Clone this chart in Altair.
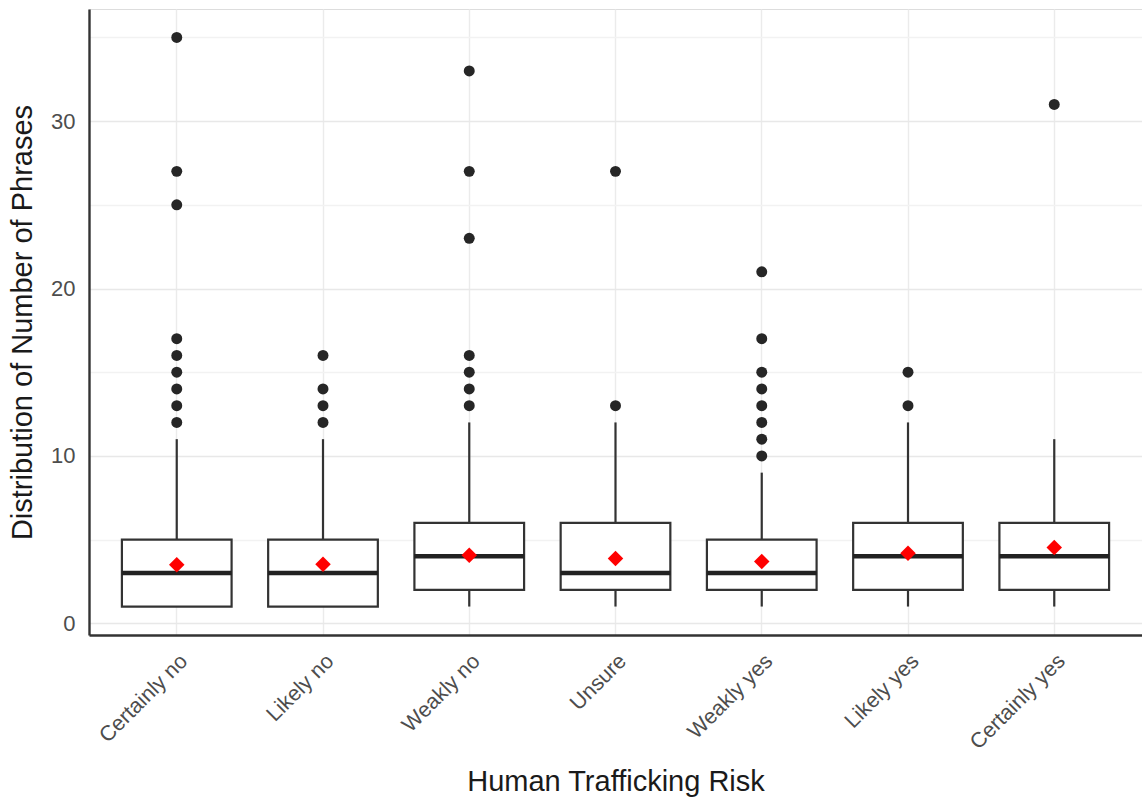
import altair as alt
import pandas as pd

categories = ["Certainly no", "Likely no", "Weakly no", "Unsure", "Weakly yes", "Likely yes", "Certainly yes"]
q1 = [1, 1, 2, 2, 2, 2, 2]
median = [3, 3, 4, 3, 3, 4, 4]
q3 = [5, 5, 6, 6, 5, 6, 6]
whisker_low = [1, 1, 1, 1, 1, 1, 1]
whisker_high = [11, 11, 12, 12, 9, 12, 11]
means = [3.49, 3.53, 4.07, 3.87, 3.69, 4.19, 4.53]
outliers = [
    [12, 13, 14, 15, 16, 17, 25, 27, 35],
    [12, 13, 14, 16],
    [13, 14, 15, 16, 23, 27, 33],
    [13, 27],
    [10, 11, 12, 13, 14, 15, 17, 21],
    [13, 15],
    [31],
]

stats = pd.DataFrame({
    "cat": categories, "q1": q1, "median": median, "q3": q3,
    "lo": whisker_low, "hi": whisker_high, "mean": means,
})
out_df = pd.DataFrame(
    [{"cat": c, "value": v} for c, vals in zip(categories, outliers) for v in vals]
)

FONT = "Liberation Sans"
DARK = "#333333"

x_enc = alt.X(
    "cat:N", sort=categories, title="Human Trafficking Risk",
    scale=alt.Scale(paddingInner=0.25, paddingOuter=0.225),
    axis=alt.Axis(
        labelAngle=-45, labelAlign="right", labelBaseline="top",
        labelFontSize=21.5, labelColor="#4D4D4D", labelFont=FONT, labelPadding=15,
        titleFontSize=29, titleFont=FONT, titleColor="#1A1A1A", titleFontWeight="normal",
        titlePadding=14, ticks=False, domain=True, domainColor=DARK, domainWidth=2.4,
        grid=True, gridColor="#EBEBEB", gridWidth=1.4, bandPosition=0.5,
    ),
)
y_scale = alt.Scale(domain=[-0.7, 36.7], nice=False, zero=False)
y_axis = alt.Axis(
    values=[0, 5, 10, 15, 20, 25, 30, 35],
    labelExpr="datum.value % 10 === 0 ? datum.label : ''",
    labelFontSize=22, labelColor="#4D4D4D", labelFont=FONT, labelPadding=14,
    titleFontSize=29, titleFont=FONT, titleColor="#1A1A1A", titleFontWeight="normal",
    titlePadding=13, ticks=False, domain=True, domainColor=DARK, domainWidth=2.4,
    grid=True,
    gridColor={"condition": {"test": "datum.value % 10 === 0", "value": "#E8E8E8"}, "value": "#F2F2F2"},
    gridWidth=1.4,
)

base = alt.Chart(stats).encode(x=x_enc)

whisk_lo = base.mark_rule(color=DARK, strokeWidth=2.2).encode(
    y=alt.Y("lo:Q", scale=y_scale, axis=y_axis, title="Distribution of Number of Phrases"),
    y2="q1:Q",
)
whisk_hi = base.mark_rule(color=DARK, strokeWidth=2.2).encode(y="q3:Q", y2="hi:Q")
box = base.mark_bar(fill="white", stroke=DARK, strokeWidth=2.2).encode(y="q1:Q", y2="q3:Q")
med = base.mark_tick(color="#222222", thickness=4.5, size=110, opacity=1).encode(y="median:Q")
mean_pt = base.mark_point(shape="diamond", filled=True, color="#FF0000", size=240, opacity=1).encode(y="mean:Q")
outs = alt.Chart(out_df).mark_circle(color="#262626", size=120, opacity=1).encode(
    x=alt.X("cat:N", sort=categories), y="value:Q"
)

chart = alt.layer(whisk_lo, whisk_hi, box, med, outs, mean_pt).properties(
    width=1053, height=626,
    padding={"left": 8, "top": 9, "right": 0, "bottom": 0},
).configure_view(stroke=None).configure(background="white")

chart.save("out.html", embed_options={"renderer": "svg", "actions": False})
